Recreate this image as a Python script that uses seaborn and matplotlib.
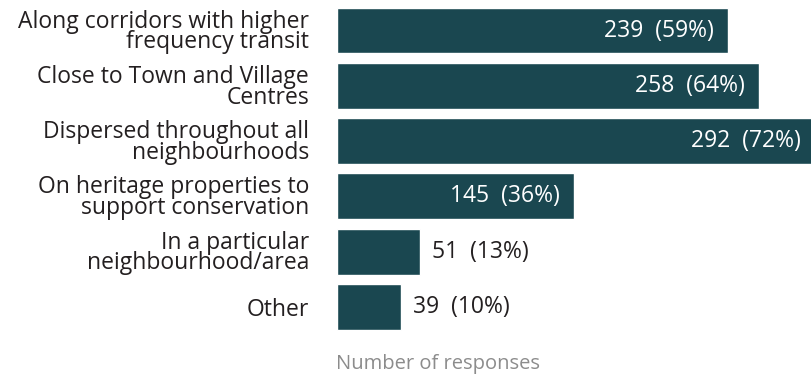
import pandas as pd
import seaborn as sns
import matplotlib.pyplot as plt

# Data
categories = [
    "Along corridors with higher\nfrequency transit",
    "Close to Town and Village\nCentres",
    "Dispersed throughout all\nneighbourhoods",
    "On heritage properties to\nsupport conservation",
    "In a particular\nneighbourhood/area",
    "Other",
]
counts = [239, 258, 292, 145, 51, 39]
percents = [59, 64, 72, 36, 13, 10]

data = pd.DataFrame({"category": categories, "count": counts, "pct": percents})

sns.set_style("white")
plt.rcParams["font.family"] = ["Open Sans", "DejaVu Sans"]

bar_color = "#1a4750"
fs = 16.5

fig = plt.figure(figsize=(8.11, 3.81), dpi=100)
ax = fig.add_axes([337 / 811, 0.1217, 1 - 337 / 811, 0.8708])

sns.barplot(data=data, x="count", y="category", color=bar_color,
            saturation=1, width=0.83, ax=ax)

ax.set_xlim(0, 290)
ax.set_xlabel("")
ax.set_ylabel("")
ax.set_xticks([])
ax.tick_params(axis="y", length=0, pad=20, labelsize=fs, labelcolor="#231f20")
for lbl in ax.get_yticklabels():
    lbl.set_linespacing(0.82)
sns.despine(ax=ax, left=True, bottom=True)

# Value labels: inside (white) for long bars, outside (dark) for short ones
for i, (c, p) in enumerate(zip(counts, percents)):
    label = f"{c}  ({p}%)"
    if c > 100:
        ax.text(c - 8.5, i, label, ha="right", va="center",
                color="white", fontsize=fs)
    else:
        ax.text(c + 7.3, i, label, ha="left", va="center",
                color="#231f20", fontsize=fs)

fig.text(438 / 811, 1 - 364 / 381, "Number of responses", ha="center",
         va="center", color="#8c8c8c", fontsize=14.5)

plt.savefig("out.png")
plt.close()
